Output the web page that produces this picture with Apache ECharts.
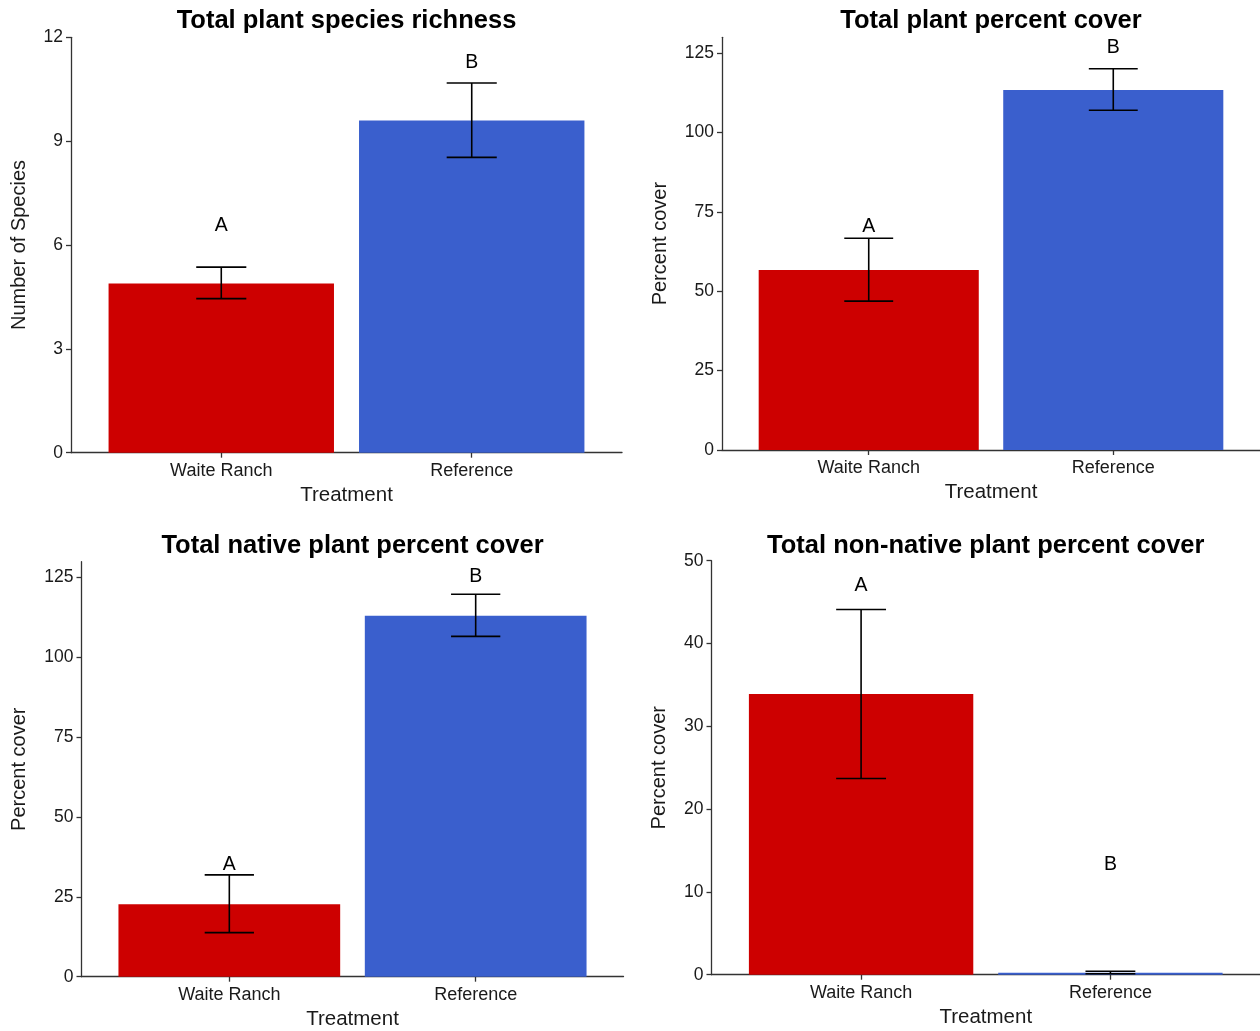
<!DOCTYPE html>
<html>
<head>
<meta charset="utf-8">
<script src="https://cdn.jsdelivr.net/npm/echarts@6/dist/echarts.min.js"></script>
<style>
  html, body { margin: 0; padding: 0; background: #ffffff; }
  #chart { width: 1260px; height: 1031px; }
</style>
</head>
<body>
<div id="chart"></div>
<script>
// Treatment groups shared by all four panels
const treatments = ['Waite Ranch', 'Reference'];
const barColors = ['#CD0000', '#3A5FCD'];

// Total plant species richness (mean, lower / upper error bar)
const richnessMean = [4.89, 9.60];
const richnessLow = [4.45, 8.53];
const richnessHigh = [5.36, 10.68];
const richnessLetters = ['A', 'B'];
const richnessLetterY = [6.55, 11.27];
const richnessTicks = [0, 3, 6, 9, 12];

// Total plant percent cover
const coverMean = [56.7, 113.4];
const coverLow = [46.9, 107.0];
const coverHigh = [66.7, 120.1];
const coverLetters = ['A', 'B'];
const coverLetterY = [70.3, 126.9];
const coverTicks = [0, 25, 50, 75, 100, 125];

// Total native plant percent cover
const nativeMean = [22.7, 113.1];
const nativeLow = [13.8, 106.6];
const nativeHigh = [31.9, 119.8];
const nativeLetters = ['A', 'B'];
const nativeLetterY = [35.1, 125.2];
const nativeTicks = [0, 25, 50, 75, 100, 125];

// Total non-native plant percent cover
const nonNativeMean = [33.9, 0.25];
const nonNativeLow = [23.7, 0.12];
const nonNativeHigh = [44.1, 0.42];
const nonNativeLetters = ['A', 'B'];
const nonNativeLetterY = [47.0, 13.3];
const nonNativeTicks = [0, 10, 20, 30, 40, 50];

const panels = [
  { title: 'Total plant species richness', yName: 'Number of Species',
    mean: richnessMean, low: richnessLow, high: richnessHigh,
    letters: richnessLetters, letterY: richnessLetterY, ticks: richnessTicks, yMax: 12,
    left: 71, top: 37.3, width: 551, height: 415.4, titleTop: 8, yNameGap: 42 },
  { title: 'Total plant percent cover', yName: 'Percent cover',
    mean: coverMean, low: coverLow, high: coverHigh,
    letters: coverLetters, letterY: coverLetterY, ticks: coverTicks, yMax: 130,
    left: 722, top: 37.3, width: 538, height: 412.7, titleTop: 8, yNameGap: 52 },
  { title: 'Total native plant percent cover', yName: 'Percent cover',
    mean: nativeMean, low: nativeLow, high: nativeHigh,
    letters: nativeLetters, letterY: nativeLetterY, ticks: nativeTicks, yMax: 130,
    left: 81.5, top: 561.7, width: 542, height: 415, titleTop: 533, yNameGap: 52 },
  { title: 'Total non-native plant percent cover', yName: 'Percent cover',
    mean: nonNativeMean, low: nonNativeLow, high: nonNativeHigh,
    letters: nonNativeLetters, letterY: nonNativeLetterY, ticks: nonNativeTicks, yMax: 50,
    left: 711.5, top: 560.7, width: 548.5, height: 414, titleTop: 533, yNameGap: 42 }
];

const FONT = '"Liberation Sans", Arial, sans-serif';
const AXIS_COLOR = '#333333';
const TEXT_COLOR = '#1a1a1a';
const X_MIN = 0.4, X_MAX = 2.6;   // discrete positions 1 and 2 with 0.6 padding
const BAR_FRACTION = 0.9;
const CAP_HALF = 0.1;

const option = {
  backgroundColor: '#ffffff',
  animation: false,
  title: [],
  grid: [],
  xAxis: [],
  yAxis: [],
  series: []
};

panels.forEach((p, i) => {
  option.title.push({
    text: p.title,
    left: p.left + p.width / 2,
    top: p.titleTop,
    padding: 0,
    textAlign: 'center',
    textStyle: { fontFamily: FONT, fontSize: 25.5, fontWeight: 'bold', color: '#000000' }
  });

  option.grid.push({ left: p.left, top: p.top, width: p.width, height: p.height, containLabel: false });

  const xs = treatments.map((_, k) => k + 1);

  option.xAxis.push({
    type: 'value', gridIndex: i, min: X_MIN, max: X_MAX,
    name: 'Treatment', nameLocation: 'middle', nameGap: 32,
    nameTextStyle: { fontFamily: FONT, fontSize: 20.5, color: TEXT_COLOR },
    axisLine: { show: true, lineStyle: { color: AXIS_COLOR, width: 1.3 } },
    axisTick: { show: true, length: 5, customValues: xs, lineStyle: { color: AXIS_COLOR, width: 1.3 } },
    axisLabel: {
      customValues: xs, margin: 9,
      fontFamily: FONT, fontSize: 18, color: TEXT_COLOR,
      formatter: v => treatments[Math.round(v) - 1] || ''
    },
    splitLine: { show: false }
  });

  option.yAxis.push({
    type: 'value', gridIndex: i, min: 0, max: p.yMax,
    name: p.yName, nameLocation: 'middle', nameGap: p.yNameGap,
    nameTextStyle: { fontFamily: FONT, fontSize: 20, color: TEXT_COLOR },
    axisLine: { show: true, onZero: false, lineStyle: { color: AXIS_COLOR, width: 1.3 } },
    axisTick: { show: true, length: 5, customValues: p.ticks, lineStyle: { color: AXIS_COLOR, width: 1.3 } },
    axisLabel: { customValues: p.ticks, margin: 8, fontFamily: FONT, fontSize: 17.5, color: TEXT_COLOR },
    splitLine: { show: false }
  });

  // bars
  option.series.push({
    type: 'bar', xAxisIndex: i, yAxisIndex: i,
    barWidth: BAR_FRACTION * p.width / (X_MAX - X_MIN),
    z: 2,
    data: p.mean.map((v, k) => ({ value: [xs[k], v], itemStyle: { color: barColors[k] } }))
  });

  // error bars
  option.series.push({
    type: 'custom', xAxisIndex: i, yAxisIndex: i, z: 4,
    data: p.mean.map((_, k) => [xs[k], p.low[k], p.high[k]]),
    encode: { x: 0, y: [1, 2] },
    renderItem: (params, api) => {
      const x = api.value(0);
      const top = api.coord([x, api.value(2)]);
      const bot = api.coord([x, api.value(1)]);
      const half = api.coord([x + CAP_HALF, 0])[0] - top[0];
      const st = { stroke: '#000000', lineWidth: 1.6 };
      return {
        type: 'group',
        children: [
          { type: 'line', shape: { x1: top[0], y1: top[1], x2: bot[0], y2: bot[1] }, style: st },
          { type: 'line', shape: { x1: top[0] - half, y1: top[1], x2: top[0] + half, y2: top[1] }, style: st },
          { type: 'line', shape: { x1: bot[0] - half, y1: bot[1], x2: bot[0] + half, y2: bot[1] }, style: st }
        ]
      };
    }
  });

  // significance letters
  option.series.push({
    type: 'custom', xAxisIndex: i, yAxisIndex: i, z: 5,
    data: p.letterY.map((v, k) => [xs[k], v]),
    encode: { x: 0, y: 1 },
    renderItem: (params, api) => {
      const pt = api.coord([api.value(0), api.value(1)]);
      return {
        type: 'text', x: pt[0], y: pt[1],
        style: {
          text: p.letters[params.dataIndex],
          fontFamily: FONT, fontSize: 19.5, fill: '#000000',
          align: 'center', verticalAlign: 'middle'
        }
      };
    }
  });
});

const chart = echarts.init(document.getElementById('chart'), null, { renderer: 'canvas' });
chart.setOption(option);
</script>
</body>
</html>
